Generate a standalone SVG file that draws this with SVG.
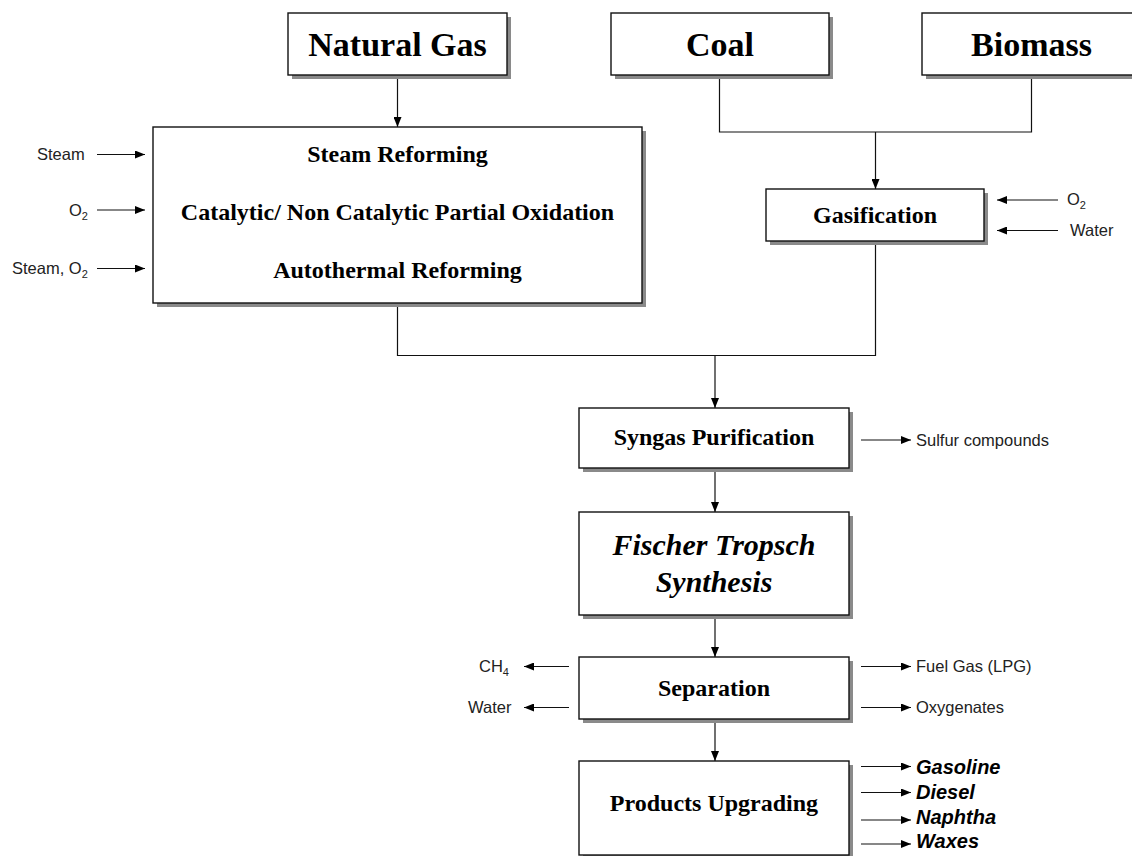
<svg xmlns="http://www.w3.org/2000/svg" width="1132" height="856" viewBox="0 0 1132 856">
<style>
.sh{fill:#8a8a8a;}
.bx{fill:#fff;stroke:#111;stroke-width:1.4;}
.t{font-family:"Liberation Serif","Times New Roman",serif;font-weight:bold;fill:#000;text-anchor:middle;}
.big{font-size:34px;}
.mid{font-size:24px;}
.ft{font-size:30px;font-style:italic;}
.lb{font-family:"Liberation Sans",Arial,sans-serif;font-size:16.5px;fill:#222;}
.pr{font-family:"Liberation Sans",Arial,sans-serif;font-size:20px;font-weight:bold;font-style:italic;fill:#000;}
.c{fill:none;stroke:#111;stroke-width:1.2;}
.a{marker-end:url(#ah);}
</style>
<defs>
<marker id="ah" markerUnits="userSpaceOnUse" markerWidth="10" markerHeight="8" refX="10" refY="4" orient="auto">
<path d="M0,0 L10,4 L0,8 z" fill="#000"/>
</marker>
</defs>
<rect width="1132" height="856" fill="#fff"/>

<g id="connectors">
<line class="c a" x1="397.5" y1="75" x2="397.5" y2="127"/>
<polyline class="c" points="719.5,75 719.5,132 1031.5,132 1031.5,75"/>
<line class="c a" x1="875.5" y1="132" x2="875.5" y2="189"/>
<polyline class="c" points="397.5,303 397.5,355.5 875.5,355.5 875.5,241"/>
<line class="c a" x1="715" y1="355.5" x2="715" y2="408"/>
<line class="c a" x1="715" y1="468" x2="715" y2="512"/>
<line class="c a" x1="715" y1="615" x2="715" y2="657"/>
<line class="c a" x1="715" y1="719" x2="715" y2="761"/>
<line class="c a" x1="97" y1="154.5" x2="145" y2="154.5"/>
<line class="c a" x1="97" y1="210" x2="145" y2="210"/>
<line class="c a" x1="97" y1="268.5" x2="145" y2="268.5"/>
<line class="c a" x1="1058" y1="200" x2="997" y2="200"/>
<line class="c a" x1="1058" y1="230.5" x2="997" y2="230.5"/>
<line class="c a" x1="861" y1="440" x2="911" y2="440"/>
<line class="c a" x1="569" y1="666.5" x2="524" y2="666.5"/>
<line class="c a" x1="569" y1="707.5" x2="524" y2="707.5"/>
<line class="c a" x1="861" y1="666.5" x2="911" y2="666.5"/>
<line class="c a" x1="861" y1="707.5" x2="911" y2="707.5"/>
<line class="c a" x1="861" y1="766.5" x2="911" y2="766.5"/>
<line class="c a" x1="861" y1="792.5" x2="911" y2="792.5"/>
<line class="c a" x1="861" y1="820" x2="911" y2="820"/>
<line class="c a" x1="861" y1="844" x2="911" y2="844"/>
</g>

<g id="natural-gas">
<rect class="sh" x="292" y="17" width="219" height="62"/>
<rect class="bx" x="288" y="13" width="219" height="62"/>
<text class="t big" x="397.5" y="56">Natural Gas</text>
</g>
<g id="coal">
<rect class="sh" x="615" y="17" width="218" height="62"/>
<rect class="bx" x="611" y="13" width="218" height="62"/>
<text class="t big" x="720" y="56">Coal</text>
</g>
<g id="biomass">
<rect class="sh" x="926" y="17" width="218" height="62"/>
<rect class="bx" x="922" y="13" width="218" height="62"/>
<text class="t big" x="1031.5" y="56">Biomass</text>
</g>
<g id="reforming">
<rect class="sh" x="157" y="131" width="489" height="176"/>
<rect class="bx" x="153" y="127" width="489" height="176"/>
<text class="t mid" x="397.5" y="162">Steam Reforming</text>
<text class="t mid" x="397.5" y="220">Catalytic/ Non Catalytic Partial Oxidation</text>
<text class="t mid" x="397.5" y="278">Autothermal Reforming</text>
</g>
<g id="reforming-inputs">
<text class="lb" x="37" y="159.5">Steam</text>
<text class="lb" x="69" y="215.5">O<tspan font-size="11" dy="4">2</tspan></text>
<text class="lb" x="12" y="273.5">Steam, O<tspan font-size="11" dy="4">2</tspan></text>
</g>
<g id="gasification">
<rect class="sh" x="770" y="193" width="218" height="52"/>
<rect class="bx" x="766" y="189" width="218" height="52"/>
<text class="t mid" x="875" y="223">Gasification</text>
</g>
<g id="gasification-inputs">
<text class="lb" x="1067" y="205">O<tspan font-size="11" dy="4">2</tspan></text>
<text class="lb" x="1070" y="236">Water</text>
</g>
<g id="syngas-purification">
<rect class="sh" x="583" y="412" width="270" height="60"/>
<rect class="bx" x="579" y="408" width="270" height="60"/>
<text class="t mid" x="714" y="445">Syngas Purification</text>
<text class="lb" x="916" y="446">Sulfur compounds</text>
</g>
<g id="fischer-tropsch">
<rect class="sh" x="583" y="516" width="270" height="103"/>
<rect class="bx" x="579" y="512" width="270" height="103"/>
<text class="t ft" x="714" y="555">Fischer Tropsch</text>
<text class="t ft" x="714" y="592">Synthesis</text>
</g>
<g id="separation">
<rect class="sh" x="583" y="661" width="270" height="62"/>
<rect class="bx" x="579" y="657" width="270" height="62"/>
<text class="t mid" x="714" y="696">Separation</text>
<text class="lb" x="479" y="672">CH<tspan font-size="11" dy="4">4</tspan></text>
<text class="lb" x="468" y="713">Water</text>
<text class="lb" x="916" y="672">Fuel Gas (LPG)</text>
<text class="lb" x="916" y="713">Oxygenates</text>
</g>
<g id="products-upgrading">
<rect class="sh" x="583" y="765" width="270" height="94"/>
<rect class="bx" x="579" y="761" width="270" height="94"/>
<text class="t mid" x="714" y="811">Products Upgrading</text>
<text class="pr" x="916" y="774">Gasoline</text>
<text class="pr" x="916" y="799">Diesel</text>
<text class="pr" x="916" y="824">Naphtha</text>
<text class="pr" x="916" y="848">Waxes</text>
</g>
</svg>
